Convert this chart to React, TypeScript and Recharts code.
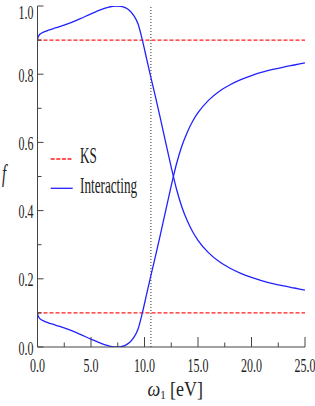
import React from "react";
import { LineChart, Line, XAxis, YAxis, ReferenceLine, Legend } from "recharts";

const omega = [0, 0.05, 0.15, 0.3, 0.6, 1, 1.5, 2, 3, 4, 5, 6, 6.5, 7, 7.4, 7.8, 8.2, 8.6, 9, 9.4, 9.8, 10.2, 10.6, 11, 11.5, 12, 12.5, 13, 13.5, 14, 14.5, 15, 16, 17, 18, 19, 20, 21, 22, 23, 24, 25];
const interactingUpper = [0.900, 0.908, 0.914, 0.919, 0.924, 0.929, 0.934, 0.939, 0.950, 0.963, 0.977, 0.990, 0.995, 0.999, 1.000, 0.999, 0.995, 0.987, 0.972, 0.947, 0.900, 0.845, 0.790, 0.737, 0.668, 0.597, 0.527, 0.462, 0.410, 0.370, 0.338, 0.313, 0.276, 0.250, 0.231, 0.216, 0.204, 0.194, 0.186, 0.179, 0.173, 0.167];
const interactingLower = [0.100, 0.092, 0.086, 0.081, 0.076, 0.071, 0.066, 0.061, 0.050, 0.037, 0.023, 0.010, 0.005, 0.001, 0.000, 0.001, 0.005, 0.013, 0.028, 0.053, 0.100, 0.155, 0.210, 0.263, 0.332, 0.403, 0.473, 0.538, 0.590, 0.630, 0.662, 0.687, 0.724, 0.750, 0.769, 0.784, 0.796, 0.806, 0.814, 0.821, 0.827, 0.833];
const ksUpper = 0.9;
const ksLower = 0.1;
const resonance = 10.6;

const xTicks = [0, 2.5, 5, 7.5, 10, 12.5, 15, 17.5, 20, 22.5, 25];
const yTicks = [0, 0.1, 0.2, 0.3, 0.4, 0.5, 0.6, 0.7, 0.8, 0.9, 1.0];

const data = omega.map((w, i) => ({
  w,
  up: interactingUpper[i],
  lo: interactingLower[i],
  ksHi: ksUpper,
  ksLo: ksLower,
}));

const AXIS = "#444";
const TEXT = "#222";
const FONT = "Liberation Serif, Times New Roman, Times, serif";
const BLUE = "#2222ff";
const RED = "#ff1a1a";
const serif: React.CSSProperties = { fontFamily: FONT };

const isMajorX = (v: number) => Math.abs(v % 5) < 1e-6;
const isMajorY = (v: number) => Math.abs((v * 10) % 2) < 1e-6;

const BottomTick = (props: any) => {
  const { x, y, payload } = props;
  const v = payload.value as number;
  const major = isMajorX(v);
  return (
    <g>
      <line x1={x} x2={x} y1={y} y2={y - (major ? 10 : 4.5)} stroke={AXIS} strokeWidth={1} />
      {major && (
        <text
          transform={`translate(${x},${y + 24.7}) scale(1,1.65)`}
          textAnchor="middle"
          fontSize={12}
          style={serif}
          fill={TEXT}
        >
          {v.toFixed(1)}
        </text>
      )}
    </g>
  );
};

const TopTick = (props: any) => {
  const { x, y, payload } = props;
  const v = payload.value as number;
  const major = isMajorX(v);
  return <line x1={x} x2={x} y1={y} y2={y + (major ? 10 : 5)} stroke={AXIS} strokeWidth={1} />;
};

const LeftTick = (props: any) => {
  const { x, y, payload } = props;
  const v = payload.value as number;
  const major = isMajorY(v);
  const base = v > 0.99 ? y + 13.3 : y + 7.5;
  return (
    <g>
      <line x1={x} x2={x + (major ? 6 : 4)} y1={y} y2={y} stroke={AXIS} strokeWidth={1} />
      {major && (
        <text
          transform={`translate(${x - 4},${base}) scale(1,1.65)`}
          textAnchor="end"
          fontSize={12}
          style={serif}
          fill={TEXT}
        >
          {v.toFixed(1)}
        </text>
      )}
    </g>
  );
};

const RightTick = (props: any) => {
  const { x, y, payload } = props;
  const v = payload.value as number;
  const major = isMajorY(v);
  return <line x1={x} x2={x - (major ? 7 : 3.5)} y1={y} y2={y} stroke={AXIS} strokeWidth={1} />;
};

const XLabel = (props: any) => {
  const vb = props.viewBox || {};
  const cx = vb.x + vb.width / 2 + 4;
  return (
    <text
      transform={`translate(${cx},${vb.y + 48.5}) scale(1,1.2)`}
      textAnchor="middle"
      fontSize={18}
      style={serif}
      fill={TEXT}
    >
      <tspan fontStyle="italic">ω</tspan>
      <tspan fontSize={11} dy={3}>1</tspan>
      <tspan dy={-3}> [eV]</tspan>
    </text>
  );
};

const YLabel = (props: any) => {
  const vb = props.viewBox || {};
  return (
    <text
      transform={`translate(${vb.x + vb.width - 33.5},${vb.y + vb.height / 2 + 5}) scale(1,1.7)`}
      textAnchor="middle"
      fontSize={15}
      fontStyle="italic"
      style={serif}
      fill={TEXT}
    >
      f
    </text>
  );
};

const LegendContent = () => (
  <svg width={130} height={60} style={{ display: "block", overflow: "visible" }}>
    <line x1={0.7} x2={22.7} y1={14} y2={14} stroke={RED} strokeWidth={1.3} strokeDasharray="4 1.6" />
    <text transform="translate(30,18.3) scale(1,1.75)" fontSize={13.2} style={serif} fill={TEXT}>
      KS
    </text>
    <line x1={0.7} x2={22.7} y1={43.3} y2={43.3} stroke={BLUE} strokeWidth={1.3} />
    <text transform="translate(30,48) scale(1,1.75)" fontSize={13.2} style={serif} fill={TEXT}>
      Interacting
    </text>
  </svg>
);

export default function App() {
  return (
    <div style={{ position: "absolute", left: 0, top: 0, width: 315, height: 406 }}>
      <LineChart
        width={315}
        height={406}
        data={data}
        margin={{ top: 6, right: 10, bottom: 0, left: 0.5 }}
      >
        <XAxis
          xAxisId="b"
          dataKey="w"
          type="number"
          domain={[0, 25]}
          ticks={xTicks}
          interval={0}
          orientation="bottom"
          height={59}
          tickSize={0}
          tickMargin={0}
          tickLine={false}
          axisLine={{ stroke: AXIS, strokeWidth: 1 }}
          tick={<BottomTick />}
          label={<XLabel />}
          allowDataOverflow
        />
        <XAxis
          xAxisId="t"
          dataKey="w"
          type="number"
          domain={[0, 25]}
          ticks={xTicks}
          interval={0}
          orientation="top"
          height={0}
          tickSize={0}
          tickMargin={0}
          tickLine={false}
          axisLine={{ stroke: AXIS, strokeWidth: 1 }}
          tick={<TopTick />}
          allowDataOverflow
        />
        <YAxis
          yAxisId="l"
          type="number"
          domain={[0, 1]}
          ticks={yTicks}
          interval={0}
          orientation="left"
          width={37}
          tickSize={0}
          tickMargin={0}
          tickLine={false}
          axisLine={{ stroke: AXIS, strokeWidth: 1 }}
          tick={<LeftTick />}
          label={<YLabel />}
          allowDataOverflow
        />
        <YAxis
          yAxisId="r"
          type="number"
          domain={[0, 1]}
          ticks={yTicks}
          interval={0}
          orientation="right"
          width={0}
          tickSize={0}
          tickMargin={0}
          tickLine={false}
          axisLine={{ stroke: AXIS, strokeWidth: 1 }}
          tick={<RightTick />}
          allowDataOverflow
        />
        <ReferenceLine
          xAxisId="b"
          yAxisId="l"
          x={resonance}
          stroke="#333"
          strokeWidth={1}
          strokeDasharray="1 2"
        />
        <Line xAxisId="b" yAxisId="l" dataKey="ksHi" name="KS" stroke={RED} strokeWidth={1.3} strokeDasharray="4 2" dot={false} activeDot={false} isAnimationActive={false} />
        <Line xAxisId="b" yAxisId="l" dataKey="ksLo" name="KS" stroke={RED} strokeWidth={1.3} strokeDasharray="4 2" dot={false} activeDot={false} isAnimationActive={false} legendType="none" />
        <Line xAxisId="b" yAxisId="l" dataKey="up" name="Interacting" type="monotone" stroke={BLUE} strokeWidth={1.3} dot={false} activeDot={false} isAnimationActive={false} />
        <Line xAxisId="b" yAxisId="l" dataKey="lo" name="Interacting" type="monotone" stroke={BLUE} strokeWidth={1.3} dot={false} activeDot={false} isAnimationActive={false} legendType="none" />
        <Legend
          layout="vertical"
          align="center"
          verticalAlign="middle"
          content={<LegendContent />}
          wrapperStyle={{ position: "absolute", left: 50, top: 145, width: 130, height: 60 }}
        />
      </LineChart>
    </div>
  );
}
